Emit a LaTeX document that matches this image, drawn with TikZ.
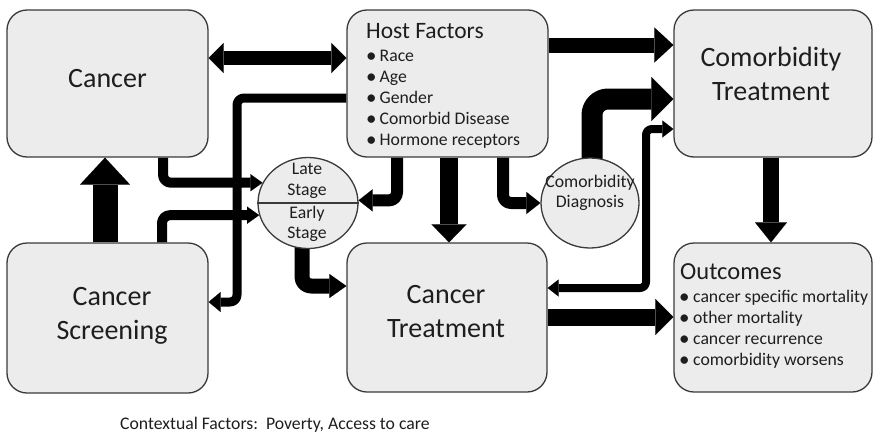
\documentclass[tikz,border=0pt]{standalone}
\usepackage{fontspec}
\setmainfont{Carlito}
\usetikzlibrary{arrows.meta,shapes.geometric,calc}
\pgfdeclarelayer{bg}
\pgfsetlayers{bg,main}
\definecolor{boxfill}{HTML}{ECECEC}
\definecolor{boxline}{HTML}{3A3A3A}
\definecolor{txt}{HTML}{1E1E1E}
\newcommand{\mybul}{{\fontsize{21}{21}\selectfont\raisebox{-0.8pt}{\textbullet}}}
\begin{document}
\begin{tikzpicture}[x=1pt,y=-1pt,
  box/.style={draw=boxline, fill=boxfill, line width=1.3pt, rounded corners=20pt, inner sep=0pt},
  oval/.style={ellipse, draw=boxline, fill=boxfill, line width=1.3pt, inner sep=0pt},
  big/.style={font=\fontsize{28}{34}\selectfont, text=txt, inner sep=0pt, anchor=base},
  small/.style={font=\fontsize{17.7}{21}\selectfont, text=txt, inner sep=0pt, anchor=base},
  lsmall/.style={small, anchor=base west},
  fat/.style n args={3}{draw=black, line cap=butt, line join=round, line width=#1pt,
    -{Triangle[width=#2pt,length=#3pt,line width=0.01pt]}},
  dfat/.style n args={3}{draw=black, line cap=butt, line join=round, line width=#1pt,
    {Triangle[width=#2pt,length=#3pt,line width=0.01pt]}-{Triangle[width=#2pt,length=#3pt,line width=0.01pt]}},
]
\useasboundingbox (0,0) rectangle (874,434);

% boxes
\node[box, minimum width=201pt, minimum height=147pt] (cancer) at (107.5,83.5) {};
\node[box, minimum width=201pt, minimum height=150pt] (screen) at (107.5,318) {};
\node[box, minimum width=201pt, minimum height=147pt] (host) at (447.5,83.5) {};
\node[box, minimum width=200pt, minimum height=149pt] (treat) at (447,317.5) {};
\node[box, minimum width=198pt, minimum height=147pt] (ctreat) at (773,83.5) {};
\node[box, minimum width=198pt, minimum height=149pt] (outc) at (773,317.5) {};
\node[oval, minimum width=100pt, minimum height=91pt] (stage) at (308,203) {};
\node[oval, minimum width=98pt, minimum height=90pt] (diag) at (590,203) {};
\draw[draw=boxline, line width=1.3pt] (stage.west) -- (stage.east);

% arrows
\begin{pgfonlayer}{bg}
\draw[fat={25}{50}{27}] (screen.north -| 105,0) -- (cancer.south -| 105,0);
\draw[dfat={14}{30}{15}] (cancer.east |- 0,58) -- (host.west |- 0,58);
\draw[fat={15}{35}{19}] (host.east |- 0,45) -- (ctreat.west |- 0,45);
\draw[fat={21}{44}{22}, rounded corners=16pt] ($(diag.north)+(2,4)$) |- (ctreat.west |- 0,99);
\draw[dfat={8}{17}{11}, rounded corners=6pt] (treat.east |- 0,288) -| (646,129) -- (ctreat.west |- 0,129);
\draw[fat={17}{36}{18}] (treat.east |- 0,317) -- (outc.west |- 0,317);
\draw[fat={16}{32}{20}] (ctreat.south -| 771,0) -- (outc.north -| 771,0);
\draw[fat={18}{35}{18}] (host.south -| 449,0) -- (treat.north -| 449,0);
\draw[fat={12}{22}{14}, rounded corners=8pt] (host.south -| 503,0) |- (diag.west);
\draw[fat={12}{22}{14}, rounded corners=8pt] (host.south -| 397,0) |- (stage.3);
\draw[fat={10}{17}{12}, rounded corners=8pt] (cancer.south -| 163,0) |- (stage.156);
\draw[fat={10}{17}{12}, rounded corners=8pt] (screen.north -| 162,0) |- (stage.194);
\draw[fat={9}{20}{12}, rounded corners=7pt] (host.west |- 0,98) -| (237,302) -- (screen.east |- 0,302);
\draw[fat={15}{24}{17}, rounded corners=9pt] ($(stage.south)+(-6,-4)$) |- (treat.west |- 0,286);
\end{pgfonlayer}

% texts
\node[big] (tCancer) at (107.5,87.5) {Cancer};
\node[big] (tScr1) at (112,305) {Cancer};
\node[big] (tScr2) at (112,339) {Screening};
\node[big] (tTr1) at (446,303) {Cancer};
\node[big] (tTr2) at (446,337) {Treatment};
\node[big] (tCt1) at (771,66.5) {Comorbidity};
\node[big] (tCt2) at (771,100) {Treatment};

\node[anchor=base west, font=\fontsize{23.5}{28}\selectfont, text=txt, inner sep=0pt] (hfT) at (366,38.5) {Host Factors};
\node[lsmall] (hf1) at (366,61.5) {\mybul\hspace{3pt}Race};
\node[lsmall] (hf2) at (366,82.5) {\mybul\hspace{3pt}Age};
\node[lsmall] (hf3) at (366,103.5) {\mybul\hspace{3pt}Gender};
\node[lsmall] (hf4) at (366,124.5) {\mybul\hspace{3pt}Comorbid Disease};
\node[lsmall] (hf5) at (366,145.5) {\mybul\hspace{3pt}Hormone receptors};

\node[anchor=base west, font=\fontsize{24.5}{29}\selectfont, text=txt, inner sep=0pt] (ocT) at (680,279) {Outcomes};
\node[lsmall] (oc1) at (679,302.5) {\mybul\hspace{3.5pt}cancer specific mortality};
\node[lsmall] (oc2) at (679,323.5) {\mybul\hspace{3.5pt}other mortality};
\node[lsmall] (oc3) at (679,344.5) {\mybul\hspace{3.5pt}cancer recurrence};
\node[lsmall] (oc4) at (679,365.5) {\mybul\hspace{3.5pt}comorbidity worsens};

\node[small] (sLate) at (307,174.5) {Late};
\node[small] (sStage1) at (307,195) {Stage};
\node[small] (sEarly) at (307,218) {Early};
\node[small] (sStage2) at (307,238.5) {Stage};

\node[small] (dC) at (590,187.5) {Comorbidity};
\node[small] (dD) at (590,207.5) {Diagnosis};

\node[lsmall] (ctx) at (120,429) {Contextual Factors:\ \ Poverty, Access to care};
\end{tikzpicture}
\end{document}
